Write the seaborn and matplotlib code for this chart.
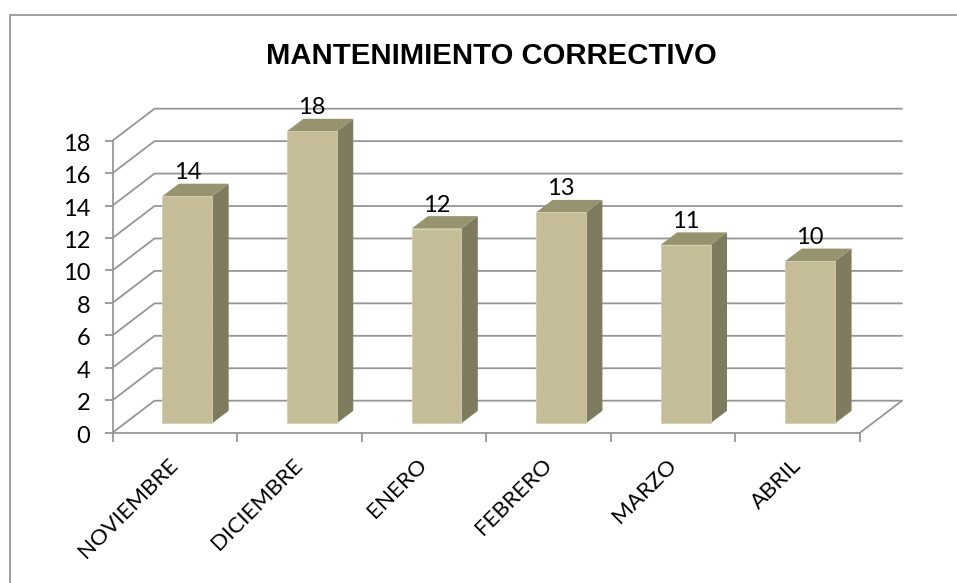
import seaborn as sns
import matplotlib.pyplot as plt
from matplotlib.lines import Line2D
from matplotlib.patches import Polygon
from matplotlib.transforms import ScaledTranslation

months = ["NOVIEMBRE", "DICIEMBRE", "ENERO", "FEBRERO", "MARZO", "ABRIL"]
values = [14, 18, 12, 13, 11, 10]
y_ticks = list(range(0, 19, 2))

FRONT = "#c4bd97"
SIDE = "#7f7b5e"
TOP = "#97936f"
GRID = "#969696"
W, H = 957, 583

sns.set_theme(style="white")
plt.rcParams["font.family"] = ["Lato", "DejaVu Sans"]

fig = plt.figure(figsize=(W / 100, H / 100), dpi=100)
ax = fig.add_axes([112.5 / W, 1 - 432.7 / H, 747.5 / W, 292 / H])
sns.barplot(x=months, y=values, color=FRONT, saturation=1, width=0.4, ax=ax, zorder=5)
ax.set_xlim(-0.5, 5.5)
ax.set_ylim(0, 18)

# pixel sizes of the fake 3d box, as data units
cat_px = 747.5 / 6
unit_px = 292 / 18
wall_dx, wall_dy = 42 / cat_px, 32 / unit_px
bar_dx, bar_dy = 16.5 / cat_px, 12.5 / unit_px
bar_shift, bar_lift = 0.1, 9.4 / unit_px

# back wall and slanted grid lines
left, right = -0.5, 5.5
for v in y_ticks:
    ax.plot([left, left + wall_dx, right + wall_dx], [v, v + wall_dy, v + wall_dy],
            color=GRID, lw=1.3, clip_on=False, zorder=1)
ax.plot([right, right + wall_dx], [0, wall_dy], color=GRID, lw=1.3, clip_on=False, zorder=1)

# bars: move the front faces back into the box, then add side and top
for bar, val in zip(ax.patches, values):
    bar.set_x(bar.get_x() + bar_shift)
    bar.set_y(bar_lift)
    bar.set_clip_on(False)
    bar.set_edgecolor("#d3cdb0")
    bar.set_linewidth(0.6)
    x0, x1 = bar.get_x(), bar.get_x() + bar.get_width()
    y0, y1 = bar_lift, bar_lift + val
    ax.add_patch(Polygon([(x1, y0), (x1 + bar_dx, y0 + bar_dy), (x1 + bar_dx, y1 + bar_dy), (x1, y1)],
                         facecolor=SIDE, edgecolor="none", clip_on=False, zorder=4))
    ax.add_patch(Polygon([(x0, y1), (x1, y1), (x1 + bar_dx, y1 + bar_dy), (x0 + bar_dx, y1 + bar_dy)],
                         facecolor=TOP, edgecolor="none", clip_on=False, zorder=4))
    ax.annotate(str(val), ((x0 + x1) / 2, y1), xytext=(0, 17), textcoords="offset points",
                ha="center", va="center", fontsize=17, color="black", zorder=6,
                annotation_clip=False)

sns.despine(ax=ax)
for s in ["left", "bottom"]:
    ax.spines[s].set_color(GRID)
    ax.spines[s].set_linewidth(1.3)

ax.set_yticks(y_ticks)
ax.tick_params(axis="y", left=True, length=6, width=1.3, color=GRID, pad=10, labelsize=17, labelcolor="black")
# nudge the y labels down a little
nudge = ScaledTranslation(0, -0.015, fig.dpi_scale_trans)
for label in ax.get_yticklabels():
    label.set_transform(label.get_transform() + nudge)
ax.set_xticks([i - 0.5 for i in range(7)], minor=True)
ax.tick_params(axis="x", which="minor", bottom=True, length=6.5, width=1.3, color=GRID)
ax.tick_params(axis="x", which="major", bottom=False, pad=15, labelcolor="black")
ax.set_xticks(range(len(months)))
ax.set_xticklabels(months, rotation=45, ha="right", va="center", rotation_mode="anchor", fontsize=16.2)

fig.text(491 / W, 1 - 56.5 / H, "MANTENIMIENTO CORRECTIVO", ha="center", va="center",
         fontsize=21.1, fontweight="bold", family="Liberation Sans", color="black")

# chart frame, only top and left fall inside the picture
frame_x, frame_y = 9.5 / W, 1 - 14.5 / H
fig.add_artist(Line2D([frame_x, frame_x, 1], [0, frame_y, frame_y], transform=fig.transFigure,
                      color=GRID, lw=1.3))

fig.savefig("out.png", dpi=100)
